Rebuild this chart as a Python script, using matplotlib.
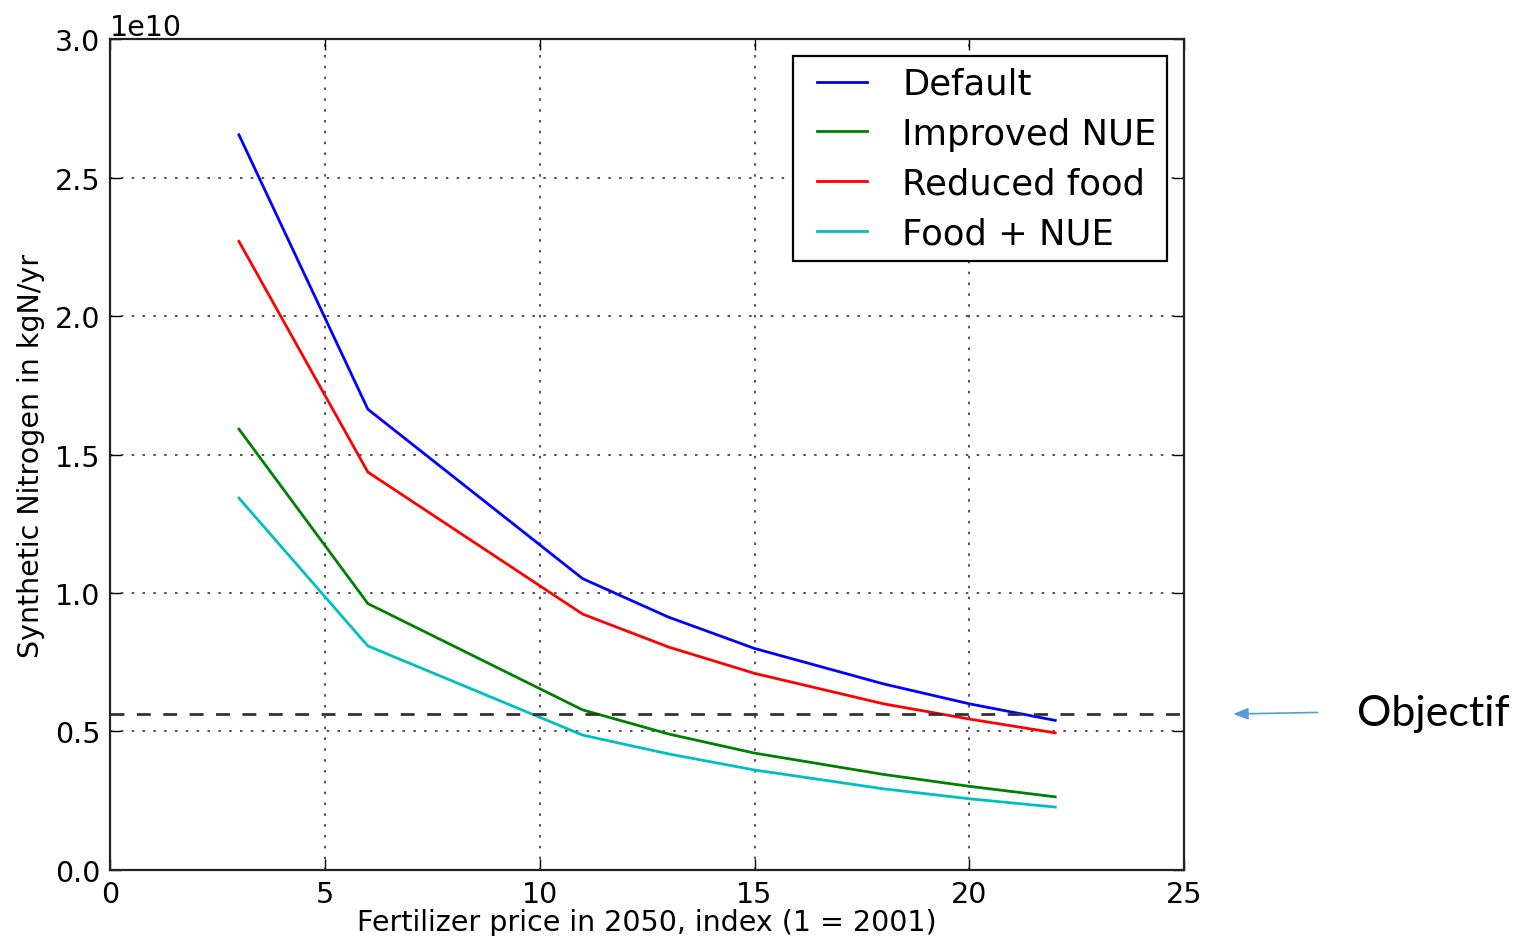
import numpy as np
import matplotlib
matplotlib.use('Agg')
import matplotlib.pyplot as plt

# price index values where the model was run
price = [3, 6, 11, 13, 15, 18, 20, 22]

# synthetic N use, 1e10 kgN/yr
default = [2.655, 1.664, 1.052, 0.913, 0.800, 0.672, 0.600, 0.540]
improved_nue = [1.592, 0.962, 0.578, 0.491, 0.422, 0.345, 0.302, 0.264]
reduced_food = [2.270, 1.437, 0.924, 0.805, 0.710, 0.600, 0.545, 0.495]
food_nue = [1.343, 0.809, 0.487, 0.419, 0.361, 0.293, 0.257, 0.227]

objectif = 0.563  # 1e10 kgN/yr

series = [
    ("Default", default, "b"),
    ("Improved NUE", improved_nue, "g"),
    ("Reduced food", reduced_food, "r"),
    ("Food + NUE", food_nue, "c"),
]

fig = plt.figure(figsize=(15.16, 9.37), dpi=100, facecolor="white")
ax = fig.add_axes([0.0726, 0.0705, 0.7085, 0.8865])

for name, vals, col in series:
    ax.plot(price, np.array(vals) * 1e10, color=col, lw=2, label=name)

ax.axhline(objectif * 1e10, color="#333333", ls=(0, (5, 4.5)), lw=2)

ax.set_xlim(0, 25)
ax.set_ylim(0, 3e10)
ax.set_xticks(np.arange(0, 26, 5))
ax.set_yticks(np.arange(0, 3.01e10, 0.5e10))
ax.grid(True, color="#333333", ls=(0, (1.5, 5)), lw=1.2)
ax.tick_params(direction="in", length=8, width=1, labelsize=20.5, top=True, right=True, pad=7)
ax.yaxis.get_offset_text().set_fontsize(20.5)
for s in ax.spines.values():
    s.set_linewidth(1.6)
    s.set_color("#222222")

ax.set_xlabel("Fertilizer price in 2050, index (1 = 2001)", fontsize=20.5, labelpad=0)
ax.set_ylabel("Synthetic Nitrogen in kgN/yr", fontsize=20.5, labelpad=7)

fs = 25.5
hl = 1.79
leg = ax.legend(loc="upper right", fontsize=fs, fancybox=False, framealpha=1,
                edgecolor="black", handlelength=hl, handletextpad=1.0,
                labelspacing=0.45, borderpad=0.3, borderaxespad=0.48)
leg.get_frame().set_linewidth(1.6)
# old-style legend: short handle sitting away from the frame
for ln in leg.get_lines():
    y0 = np.atleast_1d(ln.get_ydata())[0]
    ln.set_data([9.6, hl * fs], [y0, y0])

# arrow + label outside the axes
ax.annotate("", xy=(1.043, objectif / 3.0), xycoords="axes fraction",
            xytext=(1.127, objectif / 3.0 + 0.002), textcoords="axes fraction",
            arrowprops=dict(arrowstyle="-|>,head_length=0.9,head_width=0.35",
                            color="#5B9BD5", lw=1.2))
fig.text(0.895, 0.238, "Objectif", fontsize=31, family="Lato",
         va="center", ha="left")

fig.savefig("out.png", dpi=100)
